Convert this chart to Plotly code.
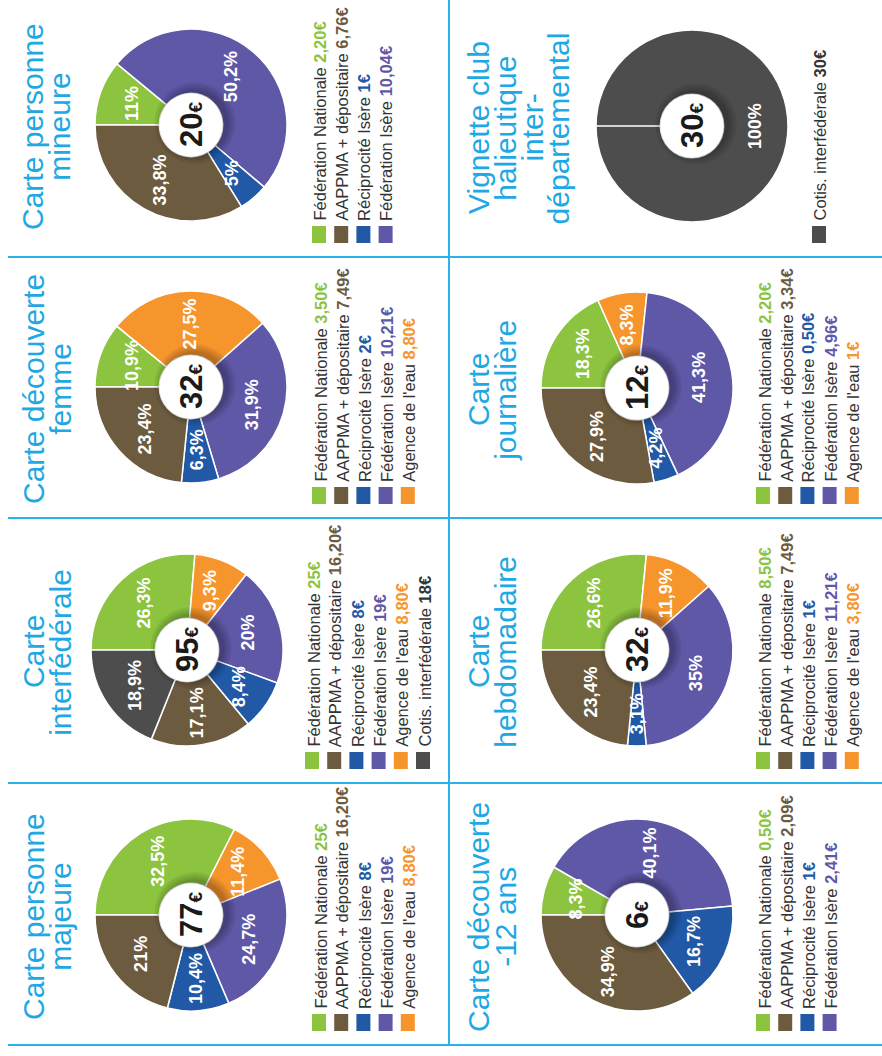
import math
import plotly.graph_objects as go

W, H = 882, 1056

# ---------------- data ----------------
CATEGORIES = ["Fédération Nationale", "AAPPMA + dépositaire", "Réciprocité Isère",
              "Fédération Isère", "Agence de l'eau", "Cotis. interfédérale"]
COLORS = ["#8CC43F", "#6C5B3F", "#2159A6", "#5F58A7", "#F7952D", "#4D4D4D"]
# order in which the slices follow each other (clockwise)
SLICE_ORDER = [0, 4, 3, 2, 1, 5]

# amounts in euros, in legend order (None = not part of the card)
mineure_eur = [2.20, 6.76, 1.00, 10.04, None, None]
mineure_pct = ["11%", "33,8%", "5%", "50,2%", None, None]

vignette_eur = [None, None, None, None, None, 30]
vignette_pct = [None, None, None, None, None, "100%"]

femme_eur = [3.50, 7.49, 2.00, 10.21, 8.80, None]
femme_pct = ["10,9%", "23,4%", "6,3%", "31,9%", "27,5%", None]

journaliere_eur = [2.20, 3.34, 0.50, 4.96, 1.00, None]
journaliere_pct = ["18,3%", "27,9%", "4,2%", "41,3%", "8,3%", None]

interfed_eur = [25, 16.20, 8, 19, 8.80, 18]
interfed_pct = ["26,3%", "17,1%", "8,4%", "20%", "9,3%", "18,9%"]

hebdo_eur = [8.50, 7.49, 1.00, 11.21, 3.80, None]
hebdo_pct = ["26,6%", "23,4%", "3,1%", "35%", "11,9%", None]

majeure_eur = [25, 16.20, 8, 19, 8.80, None]
majeure_pct = ["32,5%", "21%", "10,4%", "24,7%", "11,4%", None]

moins12_eur = [0.50, 2.09, 1.00, 2.41, None, None]
moins12_pct = ["8,3%", "34,9%", "16,7%", "40,1%", None, None]

mineure_title = ["Carte personne", "mineure"]
vignette_title = ["Vignette club", "halieutique", "inter-", "départemental"]
femme_title = ["Carte découverte", "femme"]
journaliere_title = ["Carte", "journalière"]
interfed_title = ["Carte", "interfédérale"]
hebdo_title = ["Carte", "hebdomadaire"]
majeure_title = ["Carte personne", "majeure"]
moins12_title = ["Carte découverte", "-12 ans"]

# ---------------- layout (pixel positions) ----------------
TITLE_BLUE = "#1EA8E4"
LINE_BLUE = "#2AB3E8"
TEXT_DARK = "#333333"
SANS = "Liberation Sans, Arial, sans-serif"

R = 96
HOLE = 0.33
LEG_STEP = 22.2

# (title, eur, pct, pie cx, pie cy, title first line x, legend first line x, band bottom)
panels = [
    (mineure_title, mineure_eur, mineure_pct, 191, 125, 33, 319, 257),
    (vignette_title, vignette_eur, vignette_pct, 692, 126, 478, 819, 257),
    (femme_title, femme_eur, femme_pct, 191, 387, 33, 319, 518),
    (journaliere_title, journaliere_eur, journaliere_pct, 637, 388, 478, 763, 518),
    (interfed_title, interfed_eur, interfed_pct, 187, 650, 33, 312, 783),
    (hebdo_title, hebdo_eur, hebdo_pct, 637, 650, 478, 763, 783),
    (majeure_title, majeure_eur, majeure_pct, 191, 915, 33, 319, 1045),
    (moins12_title, moins12_eur, moins12_pct, 637, 915, 478, 763, 1045),
]


def px(x):
    return x / W


def py(y):
    return 1 - y / H


def fmt_eur(v):
    if abs(v - round(v)) < 1e-9:
        return f"{int(round(v))}€"
    return f"{v:.2f}".replace(".", ",") + "€"


fig = go.Figure()
annotations = []
shapes = []

for title, eur, pct, cx, cy, tx, lx, band_bottom in panels:
    idx = [i for i in SLICE_ORDER if eur[i] is not None]
    vals = [eur[i] for i in idx]
    fig.add_trace(go.Pie(
        values=vals,
        labels=[CATEGORIES[i] for i in idx],
        marker=dict(colors=[COLORS[i] for i in idx], line=dict(color="white", width=1.5)),
        hole=HOLE, sort=False, direction="clockwise", rotation=270,
        textinfo="none", showlegend=False,
        domain=dict(x=[px(cx - R), px(cx + R)], y=[py(cy + R), py(cy - R)]),
    ))

    total = sum(vals)
    # percentage labels, placed at the angular middle of each slice
    cum = 0.0
    for i in idx:
        f0 = cum / total
        cum += eur[i]
        f1 = cum / total
        theta = math.radians(270 + 360 * (f0 + f1) / 2)
        rl = 0.66 * R
        lx_px = cx + rl * math.sin(theta)
        ly_px = cy - rl * math.cos(theta)
        annotations.append(dict(
            x=px(lx_px), y=py(ly_px), xref="paper", yref="paper", showarrow=False,
            text=f"<b>{pct[i]}</b>", textangle=-90,
            font=dict(family=SANS, size=18, color="white"),
            xanchor="center", yanchor="middle",
        ))

    # separator at the start of a single-slice ring
    if len(idx) == 1:
        shapes.append(dict(type="line", xref="paper", yref="paper",
                           x0=px(cx - R), x1=px(cx - R * HOLE), y0=py(cy), y1=py(cy),
                           line=dict(color="white", width=1.5), layer="above"))

    # hole shadow + white disc
    hr = R * HOLE
    for extra in [9, 6.5, 4, 2]:
        rr = hr + extra
        ox, oy = 4, -2
        shapes.append(dict(type="circle", xref="paper", yref="paper",
                           x0=px(cx + ox - rr), x1=px(cx + ox + rr),
                           y0=py(cy + oy + rr), y1=py(cy + oy - rr),
                           fillcolor="rgba(0,0,0,0.07)", line=dict(width=0), layer="above"))
    shapes.append(dict(type="circle", xref="paper", yref="paper",
                       x0=px(cx - hr), x1=px(cx + hr), y0=py(cy + hr), y1=py(cy - hr),
                       fillcolor="white", line=dict(width=0), layer="above"))
    tot_txt = fmt_eur(total)
    annotations.append(dict(
        x=px(cx), y=py(cy), xref="paper", yref="paper", showarrow=False,
        text=f"<b>{tot_txt[:-1]}<span style='font-size:19px'>€</span></b>", textangle=-90,
        font=dict(family=SANS, size=31, color="#1A1A1A"),
        xanchor="center", yanchor="middle",
    ))

    # title lines
    for k, line in enumerate(title):
        annotations.append(dict(
            x=px(tx + k * 26.8), y=py(cy + 2), xref="paper", yref="paper", showarrow=False,
            text=line, textangle=-90,
            font=dict(family=SANS, size=30, color=TITLE_BLUE),
            xanchor="center", yanchor="middle",
        ))

    # legend
    sq_bottom = band_bottom - 14
    sq_top = sq_bottom - 17
    k = 0
    for i in range(len(CATEGORIES)):
        if eur[i] is None:
            continue
        xc = lx + k * LEG_STEP
        shapes.append(dict(type="rect", xref="paper", yref="paper",
                           x0=px(xc - 7), x1=px(xc + 7), y0=py(sq_bottom), y1=py(sq_top),
                           fillcolor=COLORS[i], line=dict(width=0)))
        vcol = TEXT_DARK if i == 5 else COLORS[i]
        annotations.append(dict(
            x=px(xc + 1), y=py(sq_top - 4), xref="paper", yref="paper", showarrow=False,
            text=f"{CATEGORIES[i]} <b><span style='color:{vcol}'>{fmt_eur(eur[i])}</span></b>",
            textangle=-90, borderpad=0,
            font=dict(family=SANS, size=16.5, color=TEXT_DARK),
            xanchor="center", yanchor="bottom",
        ))
        k += 1

# panel frame lines
for yl in [257, 518, 783, 1045]:
    shapes.append(dict(type="line", xref="paper", yref="paper",
                       x0=px(8), x1=px(W), y0=py(yl), y1=py(yl),
                       line=dict(color=LINE_BLUE, width=2), layer="below"))
shapes.append(dict(type="line", xref="paper", yref="paper",
                   x0=px(449), x1=px(449), y0=py(0), y1=py(1045),
                   line=dict(color=LINE_BLUE, width=2), layer="below"))

fig.update_layout(
    width=W, height=H,
    margin=dict(l=0, r=0, t=0, b=0),
    paper_bgcolor="white", plot_bgcolor="white",
    annotations=annotations, shapes=shapes,
    showlegend=False,
)

fig.write_html("out.html", config={"displayModeBar": False},
               post_script="document.body.style.margin='0';")
